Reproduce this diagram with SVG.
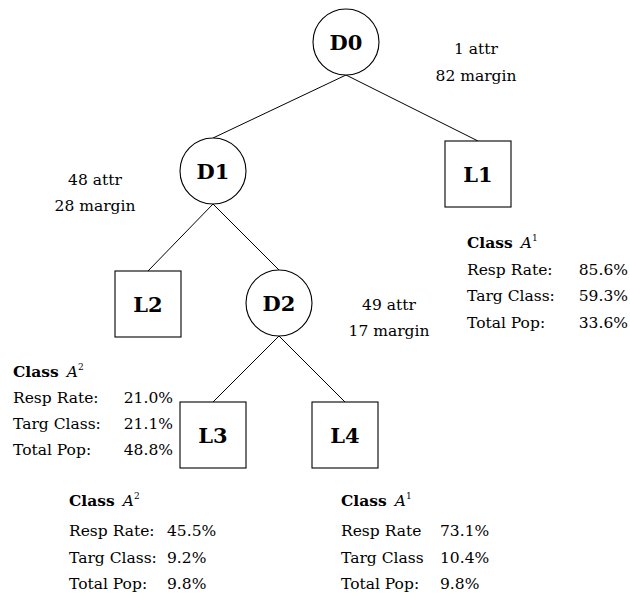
<svg xmlns="http://www.w3.org/2000/svg" width="630" height="596" viewBox="0 0 630 596">
<style>
.n{fill:#fff;stroke:#000;stroke-width:1.1}
.lbl{font-family:"DejaVu Serif","Liberation Serif",serif;font-weight:bold;font-size:21px;text-anchor:middle}
.t{font-family:"DejaVu Serif","Liberation Serif",serif;font-size:15.5px;fill:#000}
.c{text-anchor:middle}
.e{text-anchor:end}
.b{font-weight:bold}
.i{font-style:italic}
#edges line{stroke:#000;stroke-width:1}
</style>
<rect width="630" height="596" fill="#fff"/>
<g id="edges">
<line x1="346" y1="75" x2="213" y2="138"/>
<line x1="346" y1="75" x2="478" y2="141"/>
<line x1="213" y1="204" x2="148" y2="271"/>
<line x1="213" y1="204" x2="279" y2="270"/>
<line x1="279" y1="336" x2="213" y2="402"/>
<line x1="279" y1="336" x2="345" y2="402"/>
</g>
<g id="D0"><circle class="n" cx="346" cy="42" r="33"/><text class="lbl" x="346" y="50">D0</text></g>
<g id="D1"><circle class="n" cx="213" cy="171" r="33"/><text class="lbl" x="213" y="179">D1</text></g>
<g id="D2"><circle class="n" cx="279" cy="303" r="33"/><text class="lbl" x="279" y="311">D2</text></g>
<g id="L1"><rect class="n" x="445" y="141" width="66" height="66"/><text class="lbl" x="478" y="182">L1</text></g>
<g id="L2"><rect class="n" x="115" y="271" width="66" height="66"/><text class="lbl" x="148" y="312">L2</text></g>
<g id="L3"><rect class="n" x="180" y="402" width="66" height="66"/><text class="lbl" x="213" y="443">L3</text></g>
<g id="L4"><rect class="n" x="312" y="402" width="66" height="66"/><text class="lbl" x="345" y="443">L4</text></g>
<g id="notes">
<text class="t c" x="476" y="54">1 attr</text>
<text class="t c" x="476" y="81">82 margin</text>
<text class="t c" x="95" y="185">48 attr</text>
<text class="t c" x="95" y="211">28 margin</text>
<text class="t c" x="389" y="310">49 attr</text>
<text class="t c" x="389" y="336">17 margin</text>
</g>
<g id="stats-L1">
<text class="t" x="467" y="248"><tspan class="b">Class</tspan> <tspan class="i" dx="3">A</tspan><tspan font-size="9" dy="-7">1</tspan></text>
<text class="t" x="467" y="275">Resp Rate:</text><text class="t e" x="628" y="275">85.6%</text>
<text class="t" x="467" y="301">Targ Class:</text><text class="t e" x="628" y="301">59.3%</text>
<text class="t" x="467" y="328">Total Pop:</text><text class="t e" x="628" y="328">33.6%</text>
</g>
<g id="stats-L2">
<text class="t" x="13" y="377"><tspan class="b">Class</tspan> <tspan class="i" dx="3">A</tspan><tspan font-size="9" dy="-7">2</tspan></text>
<text class="t" x="13" y="403">Resp Rate:</text><text class="t e" x="173" y="403">21.0%</text>
<text class="t" x="13" y="429">Targ Class:</text><text class="t e" x="173" y="429">21.1%</text>
<text class="t" x="13" y="455">Total Pop:</text><text class="t e" x="173" y="455">48.8%</text>
</g>
<g id="stats-L3">
<text class="t" x="69" y="506"><tspan class="b">Class</tspan> <tspan class="i" dx="3">A</tspan><tspan font-size="9" dy="-7">2</tspan></text>
<text class="t" x="69" y="536">Resp Rate:</text><text class="t" x="167" y="536">45.5%</text>
<text class="t" x="69" y="563">Targ Class:</text><text class="t" x="167" y="563">9.2%</text>
<text class="t" x="69" y="589">Total Pop:</text><text class="t" x="167" y="589">9.8%</text>
</g>
<g id="stats-L4">
<text class="t" x="341" y="506"><tspan class="b">Class</tspan> <tspan class="i" dx="3">A</tspan><tspan font-size="9" dy="-7">1</tspan></text>
<text class="t" x="341" y="536">Resp Rate</text><text class="t" x="440" y="536">73.1%</text>
<text class="t" x="341" y="563">Targ Class</text><text class="t" x="440" y="563">10.4%</text>
<text class="t" x="341" y="589">Total Pop:</text><text class="t" x="440" y="589">9.8%</text>
</g>
</svg>
